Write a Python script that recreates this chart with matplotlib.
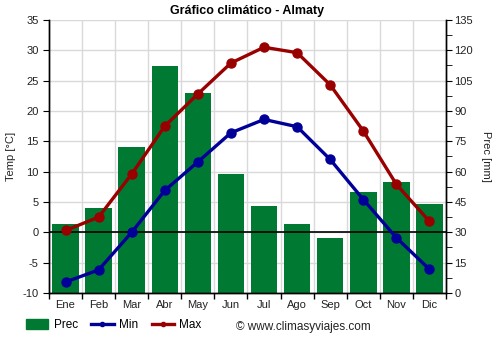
import matplotlib
matplotlib.use("Agg")
import matplotlib.pyplot as plt
from matplotlib.lines import Line2D
from matplotlib.patches import Patch
from matplotlib.ticker import MultipleLocator, FixedLocator
import numpy as np

plt.rcParams['font.family'] = ['Liberation Sans', 'DejaVu Sans']
plt.rcParams['axes.unicode_minus'] = False

months = ["Ene", "Feb", "Mar", "Abr", "May", "Jun", "Jul", "Ago", "Sep", "Oct", "Nov", "Dic"]
prec_mm = [34, 42, 72, 112, 99, 59, 43, 34, 27, 50, 55, 44]
temp_min = [-8.2, -6.2, 0.0, 6.9, 11.6, 16.4, 18.6, 17.4, 12.0, 5.4, -0.9, -6.1]
temp_max = [0.3, 2.5, 9.6, 17.5, 22.8, 27.9, 30.5, 29.6, 24.3, 16.7, 7.9, 1.8]

GREEN = "#007a33"
BLUE = "#000099"
RED = "#990000"
GRID = "#d9d9d9"

fig = plt.figure(figsize=(5, 3.5), dpi=100)
ax = fig.add_axes([0.098, 0.163, 0.794, 0.78])
ax2 = ax.twinx()

x = np.arange(len(months))

# precipitation bars on the right axis, drawn behind the temperature lines
ax2.bar(x, prec_mm, width=0.8, color=GREEN, zorder=2)
ax2.set_ylim(0, 135)
ax2.yaxis.set_major_locator(MultipleLocator(15))
ax2.yaxis.set_minor_locator(MultipleLocator(7.5))

ax.set_zorder(ax2.get_zorder() + 1)
ax.patch.set_visible(False)
ax2.patch.set_visible(True)
ax2.patch.set_facecolor("white")

ax.set_ylim(-10, 35)
ax.set_xlim(-0.5, 11.5)
ax.yaxis.set_major_locator(MultipleLocator(5))
ax.set_xticks(x)
ax.set_xticklabels(months)
ax.xaxis.set_minor_locator(FixedLocator(np.arange(-0.5, 12, 1)))
ax.tick_params(axis='x', which='major', length=0, pad=5)
ax.tick_params(axis='x', which='minor', length=4, width=1, color='black')

# grid drawn on the bar axis so it sits under the bars
for t in range(-10, 36, 5):
    ax2.axhline((t + 10) * 3, color=GRID, lw=1, zorder=0)
for b in np.arange(0.5, 11.5, 1):
    ax2.axvline(b, color=GRID, lw=1, zorder=0)

ax.axhline(0, color="black", lw=1.2, zorder=3)

ax.plot(x, temp_min, color=BLUE, lw=2.4, marker='o', ms=6.5, zorder=5)
ax.plot(x, temp_max, color=RED, lw=2.4, marker='o', ms=6.5, zorder=5)

for a in (ax, ax2):
    a.spines['top'].set_visible(False)
    for s in ('left', 'right', 'bottom'):
        a.spines[s].set_color('black')
        a.spines[s].set_linewidth(1)

ax.tick_params(axis='y', labelsize=8, length=4, colors='black', labelcolor='#222222')
ax.tick_params(axis='x', labelsize=8, labelcolor='#222222')
ax2.tick_params(axis='y', which='major', labelsize=8, length=4, pad=2, labelcolor='#222222')
ax2.tick_params(axis='y', which='minor', length=4)

ax.set_ylabel("Temp [°C]", fontsize=8, color='#222222', labelpad=5)
ax2.set_ylabel("Prec [mm]", fontsize=8, color='#222222', rotation=-90, labelpad=13)

ax.set_title("Gráfico climático - Almaty", fontsize=9, fontweight='bold', pad=4)

handles = [
    Patch(facecolor=GREEN, edgecolor=GREEN),
    Line2D([0], [0], color=BLUE, lw=2.4, marker='o', ms=3),
    Line2D([0], [0], color=RED, lw=2.4, marker='o', ms=3),
]
fig.legend(handles, ["Prec", "Min", "Max"], loc='lower left',
           bbox_to_anchor=(0.035, 0.03), ncol=3, frameon=False, fontsize=8.5,
           handlelength=1.9, handleheight=0.9, columnspacing=1.15, handletextpad=0.45,
           borderpad=0.2)
fig.text(0.472, 0.065, "© www.climasyviajes.com", fontsize=8.5, color='#222222',
         ha='left', va='center')

fig.savefig("out.png", dpi=100)
